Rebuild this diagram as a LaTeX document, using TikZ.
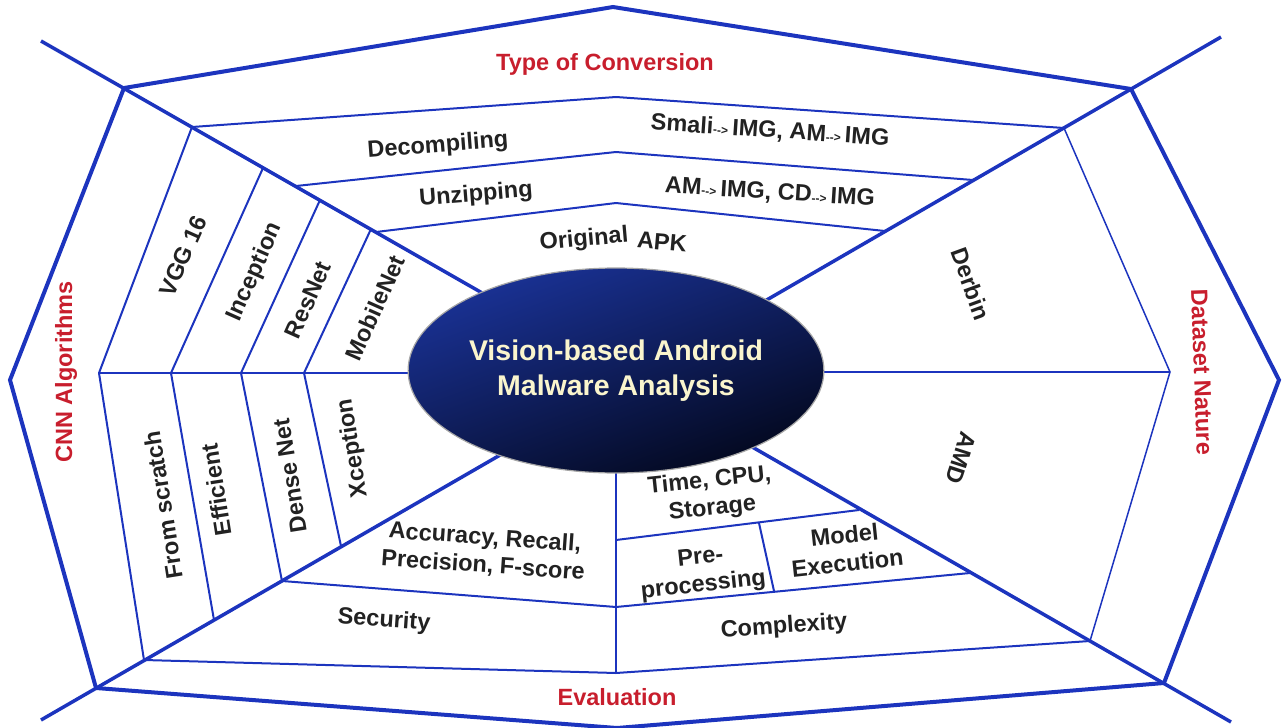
\documentclass[tikz,border=0pt]{standalone}
\usepackage{fontspec}
\setmainfont{Liberation Sans}
\usetikzlibrary{shapes.geometric}
\definecolor{lineblue}{RGB}{28,52,190}
\definecolor{redlab}{RGB}{200,30,45}
\definecolor{darktxt}{RGB}{34,34,34}
\definecolor{elltop}{RGB}{26,50,150}
\definecolor{ellbot}{RGB}{3,8,30}
\definecolor{cream}{RGB}{250,245,205}
\newcommand\smarr{{\fontsize{12}{12}\selectfont -{}->}}
\begin{document}
\begin{tikzpicture}[x=1pt,y=-1pt,
  frame/.style={draw=lineblue, line width=4pt, line join=miter},
  spoke/.style={draw=lineblue, line width=3.5pt},
  thinline/.style={draw=lineblue, line width=2pt, line join=round},
  hairline/.style={draw=lineblue, line width=1.5pt},
  lab/.style={text=darktxt, font=\bfseries\fontsize{23.5}{28}\selectfont, align=center, inner sep=0pt},
  head/.style={text=redlab, font=\bfseries\fontsize{23.5}{28}\selectfont, inner sep=0pt}]
\useasboundingbox (0,0) rectangle (1283,728);
% outer frame
\coordinate (T) at (613,7);
\coordinate (TL) at (124,88);
\coordinate (TR) at (1131,89);
\coordinate (L) at (10,380);
\coordinate (R) at (1279,380);
\coordinate (BL) at (96,688);
\coordinate (BR) at (1164,683);
\coordinate (B) at (617,728);
% spokes
\coordinate (s1) at (41,41);
\coordinate (s2) at (1221,37);
\coordinate (s3) at (41,720);
\coordinate (s4) at (1231,722);
\coordinate (e1) at (540,326);
\coordinate (e2) at (720,327);
\coordinate (e3) at (540,432);
\coordinate (e4) at (700,417);
% conversion band
\coordinate (a1) at (192,127); \coordinate (a2) at (616,97); \coordinate (a3) at (1064,128);
\coordinate (b1) at (296,186); \coordinate (b2) at (616,152); \coordinate (b3) at (973,180);
\coordinate (c1) at (376,232); \coordinate (c2) at (616,203); \coordinate (c3) at (885,231);
% cnn band
\coordinate (h0) at (99,373); \coordinate (h0e) at (450,373);
\coordinate (p0) at (144,660);
\coordinate (k1t) at (263,168); \coordinate (k1m) at (171,373); \coordinate (k1b) at (214,620);
\coordinate (k2t) at (320,200); \coordinate (k2m) at (241,373); \coordinate (k2b) at (282,581);
\coordinate (k3t) at (371,229); \coordinate (k3m) at (304,373); \coordinate (k3b) at (341,546);
% dataset band
\coordinate (dR) at (1170,372); \coordinate (dRe) at (780,372);
\coordinate (dB) at (1090,641);
% evaluation band
\coordinate (v0) at (616,420); \coordinate (v1) at (616,540); \coordinate (v2) at (616,607); \coordinate (v3) at (616,673);
\coordinate (m1) at (859,510); \coordinate (m2) at (970,573);
\coordinate (q1) at (759,523); \coordinate (q2) at (774,591);

\draw[frame] (TL) -- (T) -- (TR) -- (R) -- (BR) -- (B) -- (BL) -- (L) -- cycle;
\draw[spoke] (s1) -- (e1);
\draw[spoke] (s2) -- (e2);
\draw[spoke] (s3) -- (e3);
\draw[spoke] (s4) -- (e4);

\draw[thinline] (a1) -- (a2) -- (a3);
\draw[thinline] (b1) -- (b2) -- (b3);
\draw[thinline] (c1) -- (c2) -- (c3);

\draw[thinline] (a1) -- (h0) -- (p0);
\draw[thinline] (k1t) -- (k1m) -- (k1b);
\draw[thinline] (k2t) -- (k2m) -- (k2b);
\draw[thinline] (k3t) -- (k3m) -- (k3b);
\draw[thinline] (h0) -- (h0e);

\draw[hairline] (a3) -- (dR) -- (dB);
\draw[thinline] (dRe) -- (dR);

\draw[thinline] (v0) -- (v3);
\draw[thinline] (k2b) -- (v2) -- (m2);
\draw[thinline] (p0) -- (v3) -- (dB);
\draw[thinline] (v1) -- (m1);
\draw[thinline] (q1) -- (q2);

\node[ellipse, draw=black!35, line width=1.2pt, minimum width=412pt, minimum height=205pt, inner sep=0pt,
  top color=elltop, bottom color=ellbot, shading angle=20, text=cream,
  font=\bfseries\fontsize{28.5}{35}\selectfont, align=center] (hub) at (616,370.5)
  {Vision-based Android\\Malware Analysis};

\node[head] (toc) at (605,64) {Type of Conversion};
\node[head, rotate=90] (cnn) at (66,372) {CNN Algorithms};
\node[head, rotate=-88] (dsn) at (1202,372) {Dataset Nature};
\node[head] (evl) at (617,697) {Evaluation};

\node[lab, rotate=4.5] (dec) at (438,146) {Decompiling};
\node[lab, rotate=-3.8] (decx) at (770,131) {Smali\smarr\,IMG, AM\smarr\,IMG};
\node[lab, rotate=4.5] (unz) at (476,195) {Unzipping};
\node[lab, rotate=-3.7] (unzx) at (770,193) {AM\smarr\,IMG, CD\smarr\,IMG};
\node[lab, rotate=5] (orig) at (584,240) {Original};
\node[lab, rotate=-5] (apk) at (662,242) {APK};

\node[lab, rotate=66] (vgg) at (183,256) {VGG 16};
\node[lab, rotate=66] (inc) at (255,272) {Inception};
\node[lab, rotate=66] (res) at (308,300) {ResNet};
\node[lab, rotate=66] (mob) at (375,308) {MobileNet};

\node[lab, rotate=99] (frs) at (163,505) {From scratch};
\node[lab, rotate=99] (eff) at (216,490) {Efficient};
\node[lab, rotate=99] (den) at (290,476) {Dense Net};
\node[lab, rotate=99] (xce) at (353,448) {Xception};

\node[lab, rotate=-70] (der) at (971,284) {Derbin};
\node[lab, rotate=-108] (amd) at (961,458) {AMD};

\node[lab, rotate=-4] (acc) at (484,552) {Accuracy, Recall,\\Precision, F-score};
\node[lab, rotate=-4] (sec) at (384,621) {Security};
\node[lab, rotate=6] (tim) at (711,495) {Time, CPU,\\Storage};
\node[lab, rotate=6] (pre) at (702,572) {Pre-\\processing};
\node[lab, rotate=6] (mod) at (846,549) {Model\\Execution};
\node[lab, rotate=4] (cpx) at (784,627) {Complexity};
\end{tikzpicture}
\end{document}
